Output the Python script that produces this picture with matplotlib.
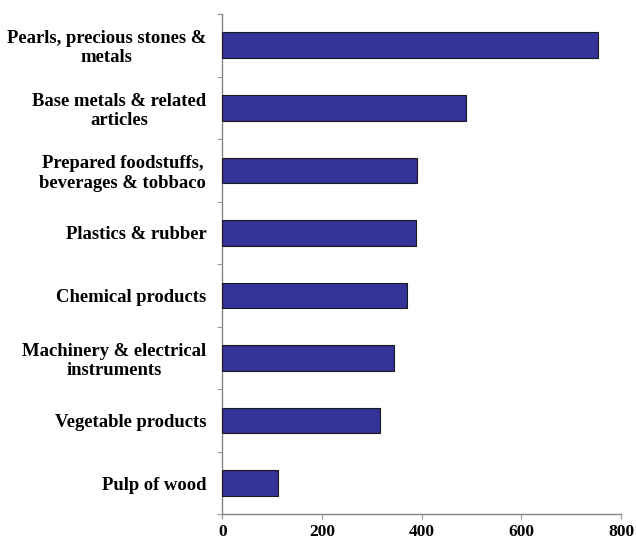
import matplotlib.pyplot as plt

# Product groups, bottom to top, and their values
categories = ['Pulp of wood', 'Vegetable products',
              'Machinery & electrical\ninstruments', 'Chemical products',
              'Plastics & rubber',
              'Prepared foodstuffs,\nbeverages & tobbaco',
              'Base metals & related\narticles',
              'Pearls, precious stones &\nmetals']
values = [112, 316, 344, 370, 388, 390, 490, 753]
xticks = [0, 200, 400, 600, 800]

plt.rcParams['font.family'] = ['Liberation Serif', 'DejaVu Serif']
plt.rcParams['font.weight'] = 'bold'

fig = plt.figure(figsize=(6.36, 5.43), dpi=100)
ax = fig.add_axes([0.3495, 0.0525, 0.6269, 0.9217])

pos = range(len(categories))
ax.barh(pos, values, height=0.41, color='#333399', edgecolor='#1a1a1a',
        linewidth=0.8, zorder=3)

ax.set_xlim(0, 800)
ax.set_ylim(-0.5, len(categories) - 0.5)
ax.set_xticks(xticks)
ax.set_xticklabels([str(t) for t in xticks], fontsize=12.5, fontweight='bold')

# category labels sit between boundary ticks
ax.set_yticks(list(pos))
ax.set_yticklabels(categories, fontsize=13.4, fontweight='bold')
for lab in ax.get_yticklabels():
    lab.set_multialignment('center')
    lab.set_linespacing(1.17)
ax.set_yticks([i - 0.5 for i in range(len(categories) + 1)], minor=True)
ax.tick_params(axis='y', which='major', length=0, pad=11.5)
ax.tick_params(axis='y', which='minor', length=3.6, color='#999999', width=0.8)
ax.tick_params(axis='x', length=3.6, color='#999999', width=0.8, pad=3.5)

for s in ['top', 'right']:
    ax.spines[s].set_visible(False)
for s in ['left', 'bottom']:
    ax.spines[s].set_color('#888888')
    ax.spines[s].set_linewidth(1.0)

fig.savefig('out.png', dpi=100)
